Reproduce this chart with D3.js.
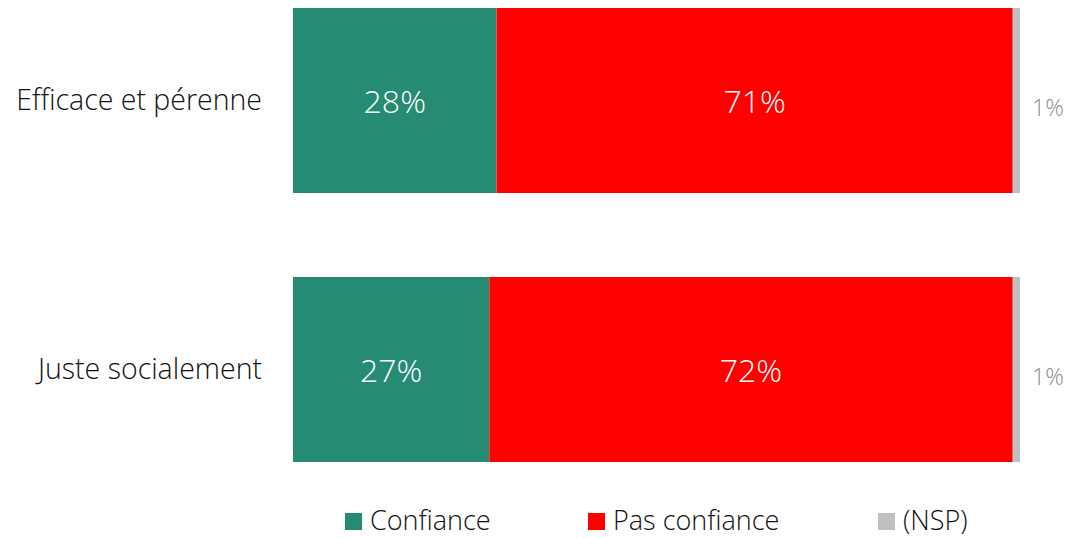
<!DOCTYPE html>
<html>
<head>
<meta charset="utf-8">
<script src="https://d3js.org/d3.v7.min.js"></script>
<style>
  body { margin: 0; background: #fff; }
  svg text { font-family: "Open Sans", "Lato", sans-serif; font-weight: 300; }
</style>
</head>
<body>
<svg width="1068" height="538"></svg>
<script>
// data
const categories = ["Efficace et pérenne", "Juste socialement"];
const series = ["Confiance", "Pas confiance", "(NSP)"];
const confiance = [28, 27];
const pasConfiance = [71, 72];
const nsp = [1, 1];
const colors = ["#268b73", "#ff0000", "#c0c0c0"];

const svg = d3.select("svg");
const rows = categories.map((c, i) => ({ cat: c, vals: [confiance[i], pasConfiance[i], nsp[i]] }));

const x = d3.scaleLinear().domain([0, 100]).range([293, 1020]);
const y = d3.scaleBand().domain(categories).range([8, 462]).paddingInner(84 / 269).paddingOuter(0);
const bh = y.bandwidth();

// stacked bars
rows.forEach(r => {
  let acc = 0;
  const g = svg.append("g");
  const cy = y(r.cat) + bh / 2;
  r.vals.forEach((v, k) => {
    const x0 = x(acc), x1 = x(acc + v);
    acc += v;
    g.append("rect")
      .attr("x", x0).attr("y", y(r.cat))
      .attr("width", x1 - x0).attr("height", bh)
      .attr("fill", colors[k]);
    if (k < 2) {
      g.append("text")
        .attr("x", (x0 + x1) / 2).attr("y", cy)
        .attr("text-anchor", "middle").attr("dominant-baseline", "central")
        .attr("fill", "#fff").attr("font-size", 32)
        .text(v + "%");
    } else {
      g.append("text")
        .attr("x", x1 + 12).attr("y", cy + 6)
        .attr("dominant-baseline", "central")
        .attr("fill", "#8c8c8c").attr("font-size", 23)
        .text(v + "%");
    }
  });
  svg.append("text")
    .attr("x", 262).attr("y", cy - 2)
    .attr("text-anchor", "end").attr("dominant-baseline", "central")
    .attr("fill", "#111").attr("font-size", 28.5)
    .text(r.cat);
});

// legend
const legendX = [345, 588, 878];
const lg = svg.append("g");
series.forEach((s, k) => {
  lg.append("rect").attr("x", legendX[k]).attr("y", 513).attr("width", 17).attr("height", 17).attr("fill", colors[k]);
  lg.append("text").attr("x", legendX[k] + 25).attr("y", 519)
    .attr("dominant-baseline", "central").attr("font-size", 27).attr("fill", "#111")
    .text(s);
});
</script>
</body>
</html>
